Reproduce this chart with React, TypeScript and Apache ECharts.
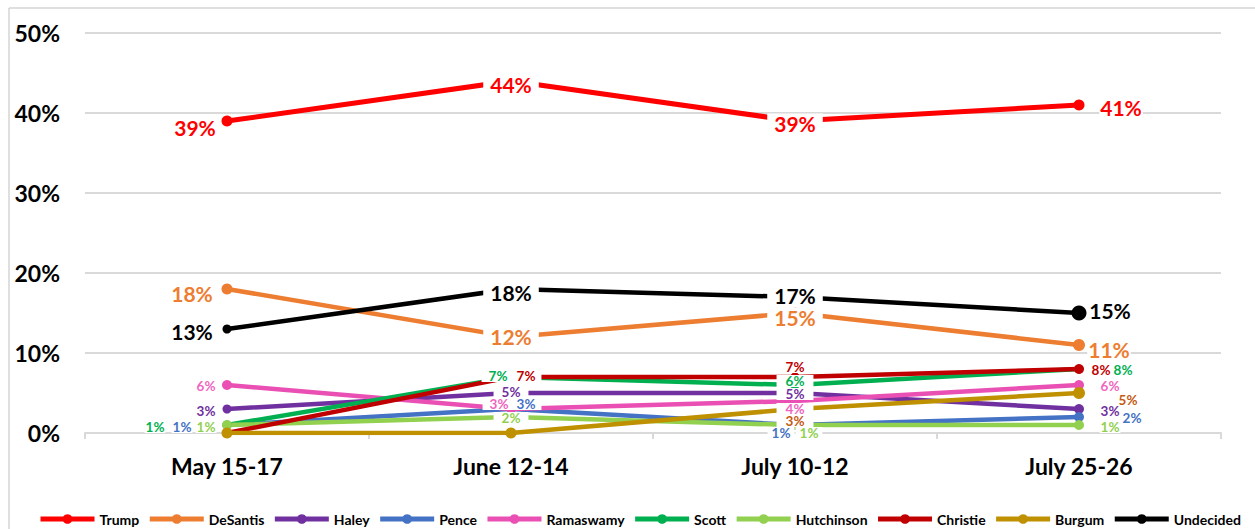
import React, { useEffect, useRef } from "react";
import * as echarts from "echarts";

const categories = ["May 15-17", "June 12-14", "July 10-12", "July 25-26"];
const yTicks = [0, 10, 20, 30, 40, 50];

const trump = [39, 44, 39, 41];
const desantis = [18, 12, 15, 11];
const haley = [3, 5, 5, 3];
const pence = [1, 3, 1, 2];
const ramaswamy = [6, 3, 4, 6];
const scott = [1, 7, 6, 8];
const hutchinson = [1, 2, 1, 1];
const christie = [0, 7, 7, 8];
const burgum = [0, 0, 3, 5];
const undecided = [13, 18, 17, 15];

// label placement per point: [dx, dy, padX] or null (hidden)
type LP = [number, number, number] | null;

const FONT = "Lato, 'Open Sans', sans-serif";

interface SDef {
  name: string;
  data: number[];
  color: string;
  labelColor: string;
  big: boolean;
  width: number;
  symbolSizes: number[];
  labels: LP[];
}

const seriesDefs: SDef[] = [
  { name: "Trump", data: trump, color: "#FF0000", labelColor: "#FF0000", big: true, width: 5, symbolSizes: [11, 11, 11, 11],
    labels: [[-32, 6, 1], [0, 3, 7], [0, 2, 7], [42, 2, 1]] },
  { name: "DeSantis", data: desantis, color: "#ED7D31", labelColor: "#ED7D31", big: true, width: 4.5, symbolSizes: [11, 11, 11, 12],
    labels: [[-35, 4, 1], [0, -1, 7], [0, 4, 7], [30, 4, 1]] },
  { name: "Haley", data: haley, color: "#7030A0", labelColor: "#7030A0", big: false, width: 4.5, symbolSizes: [9, 9, 9, 10],
    labels: [[-21, 2, 1], [0, -1, 8], [0, 1, 9], [31, 2, 1]] },
  { name: "Pence", data: pence, color: "#4472C4", labelColor: "#4472C4", big: false, width: 4.5, symbolSizes: [9, 9, 9, 10],
    labels: [[-45, 2, 1], [15, -5, 6], [-14, 8, 4], [53, 1, 1]] },
  { name: "Ramaswamy", data: ramaswamy, color: "#EA4FB3", labelColor: "#F065C0", big: false, width: 4.5, symbolSizes: [10, 9, 9, 10],
    labels: [[-21, 1, 1], [-12, -5, 7], [0, 8, 9], [31, 1, 1]] },
  { name: "Scott", data: scott, color: "#00B050", labelColor: "#00B050", big: false, width: 4.5, symbolSizes: [9, 9, 9, 9],
    labels: [[-72, 2, 1], [-13, -1, 7], [0, -4, 9], [44, 1, 1]] },
  { name: "Hutchinson", data: hutchinson, color: "#92D050", labelColor: "#92D050", big: false, width: 4.5, symbolSizes: [10, 9, 9, 10],
    labels: [[-21, 2, 1], [0, 1, 8], [14, 8, 4], [31, 2, 1]] },
  { name: "Christie", data: christie, color: "#C00000", labelColor: "#C00000", big: false, width: 4.5, symbolSizes: [9, 9, 9, 10],
    labels: [null, [15, -1, 6], [0, -10, 9], [22, 1, 1]] },
  { name: "Burgum", data: burgum, color: "#BF9000", labelColor: "#C55A11", big: false, width: 4.5, symbolSizes: [11, 11, 11, 12],
    labels: [null, null, [0, 12, 9], [49, 7, 1]] },
  { name: "Undecided", data: undecided, color: "#000000", labelColor: "#000000", big: true, width: 4.5, symbolSizes: [9, 9, 9, 15],
    labels: [[-35, 2, 1], [0, 3, 7], [0, -2, 7], [31, -3, 1]] },
];

export default function App() {
  const ref = useRef<HTMLDivElement>(null);
  useEffect(() => {
    if (!ref.current) return;
    const chart = echarts.init(ref.current, undefined, { renderer: "svg" });
    const series = seriesDefs.map((s) => ({
      name: s.name,
      type: "line",
      color: s.color,
      symbol: "circle",
      lineStyle: { width: s.width, color: s.color },
      itemStyle: { color: s.color },
      emphasis: { disabled: true },
      data: s.data.map((v, i) => {
        const lp = s.labels[i];
        return {
          value: v,
          symbolSize: s.symbolSizes[i],
          label: lp
            ? {
                show: true,
                position: "inside",
                offset: [lp[0], lp[1]],
                formatter: "{c}%",
                color: s.labelColor,
                fontFamily: FONT,
                fontWeight: "bold",
                fontSize: s.big ? 21 : 13.5,
                lineHeight: s.big ? 19 : 12,
                backgroundColor: "#ffffff",
                padding: [0, lp[2]],
              }
            : { show: false },
        };
      }),
    }));
    chart.setOption({
      animation: false,
      backgroundColor: "#ffffff",
      textStyle: { fontFamily: FONT },
      grid: { left: 85, right: 34, top: 33, bottom: 96, containLabel: false },
      xAxis: {
        type: "category",
        data: categories,
        boundaryGap: true,
        axisLine: { lineStyle: { color: "#D9D9D9", width: 2 } },
        axisTick: { show: true, length: 6, lineStyle: { color: "#D9D9D9", width: 2 } },
        axisLabel: { color: "#000", fontWeight: "bold", fontSize: 23, fontFamily: FONT, margin: 21 },
      },
      yAxis: {
        type: "value",
        min: yTicks[0],
        max: yTicks[yTicks.length - 1],
        interval: 10,
        axisLine: { show: false },
        axisTick: { show: false },
        splitLine: { lineStyle: { color: "#D9D9D9", width: 2 } },
        axisLabel: { formatter: "{value}%", color: "#000", fontWeight: "bold", fontSize: 23, fontFamily: FONT, margin: 25 },
      },
      legend: {
        top: 507,
        left: 33,
        itemWidth: 54,
        itemHeight: 12,
        itemGap: 8,
        lineStyle: { width: 5 },
        textStyle: { color: "#000", fontWeight: "bold", fontSize: 14, fontFamily: FONT },
        data: seriesDefs.map((s) => s.name),
      },
      graphic: [
        {
          type: "rect",
          shape: { x: 9, y: 8, width: 1400, height: 700 },
          style: { fill: "none", stroke: "#BFBFBF", lineWidth: 1 },
          silent: true,
        },
      ],
      series,
    });
    return () => chart.dispose();
  }, []);
  return (
    <div
      ref={ref}
      style={{ position: "fixed", left: 0, top: 0, width: 1255, height: 529 }}
    />
  );
}
